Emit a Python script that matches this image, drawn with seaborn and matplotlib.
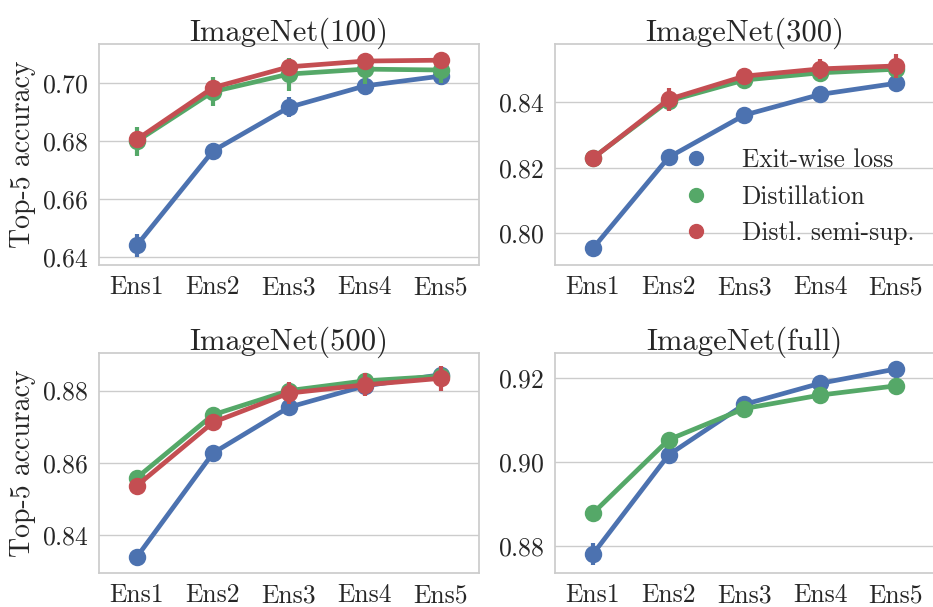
import pandas as pd
import matplotlib.pyplot as plt
import seaborn as sns
from matplotlib.lines import Line2D

# --- datos ---
ensembles = ["Ens1", "Ens2", "Ens3", "Ens4", "Ens5"]
methods = ["Exit-wise loss", "Distillation", "Distl. semi-sup."]
colores = ["#4C72B0", "#55A868", "#C44E52"]

titulos = ["ImageNet(100)", "ImageNet(300)", "ImageNet(500)", "ImageNet(full)"]

# ImageNet(100)
in100_exit = [0.6440, 0.6766, 0.6917, 0.6991, 0.7025]
in100_dist = [0.6800, 0.6971, 0.7032, 0.7049, 0.7046]
in100_semi = [0.6806, 0.6985, 0.7057, 0.7077, 0.7080]
in100_exit_err = [0.0040, 0.0028, 0.0035, 0.0033, 0.0030]
in100_dist_err = [0.0050, 0.0050, 0.0057, 0.0050, 0.0045]
in100_semi_err = [0.0030, 0.0020, 0.0015, 0.0015, 0.0015]

# ImageNet(300)
in300_exit = [0.7954, 0.8232, 0.8361, 0.8424, 0.8458]
in300_dist = [0.8230, 0.8404, 0.8468, 0.8490, 0.8501]
in300_semi = [0.8229, 0.8409, 0.8480, 0.8502, 0.8511]
in300_exit_err = [0.0015, 0.0012, 0.0012, 0.0015, 0.0015]
in300_dist_err = [0.0020, 0.0020, 0.0020, 0.0020, 0.0020]
in300_semi_err = [0.0020, 0.0035, 0.0025, 0.0030, 0.0037]

# ImageNet(500)
in500_exit = [0.8340, 0.8627, 0.8754, 0.8813, 0.8844]
in500_dist = [0.8559, 0.8733, 0.8800, 0.8827, 0.8840]
in500_semi = [0.8537, 0.8712, 0.8793, 0.8816, 0.8834]
in500_exit_err = [0.0010, 0.0010, 0.0010, 0.0012, 0.0012]
in500_dist_err = [0.0010, 0.0010, 0.0012, 0.0012, 0.0012]
in500_semi_err = [0.0010, 0.0020, 0.0030, 0.0032, 0.0034]

# ImageNet(full) - sin semi-supervisado
infull_exit = [0.8781, 0.9017, 0.9137, 0.9187, 0.9221]
infull_dist = [0.8878, 0.9053, 0.9127, 0.9159, 0.9181]
infull_exit_err = [0.0026, 0.0008, 0.0008, 0.0008, 0.0008]
infull_dist_err = [0.0008, 0.0008, 0.0008, 0.0008, 0.0008]

paneles = [
    [(in100_exit, in100_exit_err), (in100_dist, in100_dist_err), (in100_semi, in100_semi_err)],
    [(in300_exit, in300_exit_err), (in300_dist, in300_dist_err), (in300_semi, in300_semi_err)],
    [(in500_exit, in500_exit_err), (in500_dist, in500_dist_err), (in500_semi, in500_semi_err)],
    [(infull_exit, infull_exit_err), (infull_dist, infull_dist_err)],
]
limites = [(0.6371, 0.7136), (0.7903, 0.8578), (0.8295, 0.8904), (0.8736, 0.9259)]

sns.set_theme(style="whitegrid")
plt.rcParams["font.family"] = ["cmr10", "DejaVu Serif"]
plt.rcParams["mathtext.fontset"] = "cm"
plt.rcParams["axes.formatter.use_mathtext"] = True

fig, axes = plt.subplots(2, 2, figsize=(9.33, 6.07), dpi=100)
posiciones = [
    [0.1061, 0.5634, 0.4073, 0.3641],
    [0.5949, 0.5634, 0.4060, 0.3641],
    [0.1061, 0.0560, 0.4073, 0.3624],
    [0.5949, 0.0560, 0.4060, 0.3624],
]

for i, ax in enumerate(axes.flat):
    ax.set_position(posiciones[i])
    for j, (vals, errs) in enumerate(paneles[i]):
        df = pd.DataFrame({"ens": ensembles, "acc": vals})
        sns.pointplot(data=df, x="ens", y="acc", order=ensembles, color=colores[j],
                      errorbar=None, markers="o", markersize=10, linewidth=3.4, ax=ax)
        lo = [v - e for v, e in zip(vals, errs)]
        hi = [v + e for v, e in zip(vals, errs)]
        ax.vlines(range(len(ensembles)), lo, hi, color=colores[j], linewidth=3.0)
    ax.set_xlim(-0.5, len(ensembles) - 0.5)
    ax.set_ylim(*limites[i])
    ax.set_title(titulos[i], fontsize=22, pad=2)
    ax.set_xlabel("")
    ax.set_ylabel("Top-5 accuracy" if i % 2 == 0 else "", fontsize=20, labelpad=4)
    ax.tick_params(axis="both", labelsize=18.5, pad=7.5, length=0)
    ax.xaxis.grid(False)

# leyenda solo con marcadores
handles = [Line2D([], [], marker="o", linestyle="", color=c, markersize=10) for c in colores]
axes[0, 1].legend(handles, methods, loc="center left", bbox_to_anchor=(0.244, 0.308),
                  frameon=False, fontsize=18.3)

fig.savefig("out.png", dpi=100)
